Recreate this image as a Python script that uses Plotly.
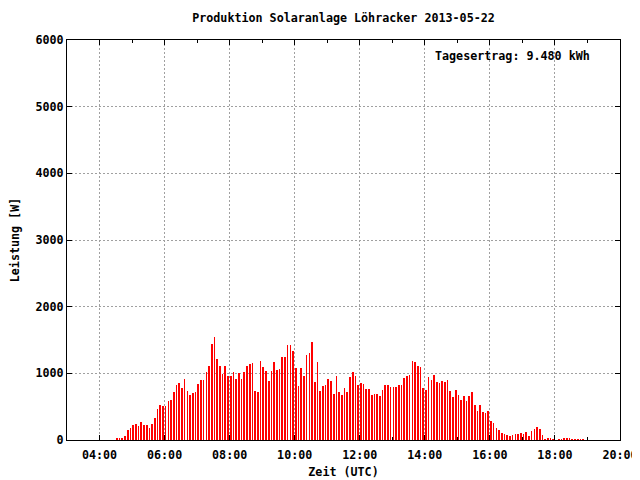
import plotly.graph_objects as go
import pandas as pd

start_time = "2013-05-22 04:32"
interval = "5min"
leistung_w = [
    20, 20, 20, 60, 150, 180, 225, 240, 210, 270, 225, 225, 180, 240, 330, 465, 525, 510, 510, 585, 600, 720, 825, 855,
    780, 915, 735, 675, 705, 720, 840, 900, 900, 1020, 1110, 1440, 1545, 1215, 1110, 990, 1110, 960, 960, 1020, 915, 1005, 915, 1020, 1110,
    1140, 1155, 735, 720, 1185, 1095, 1035, 885, 1035, 1170, 1050, 1065, 1245, 1245, 1425, 1425, 1335, 1080, 810, 1080, 960, 1275, 1305, 1470, 870,
    1170, 735, 810, 825, 915, 885, 690, 960, 720, 675, 780, 720, 945, 1020, 960, 825, 855, 840, 765, 765, 675, 690, 690, 660, 750,
    825, 825, 795, 795, 795, 825, 825, 930, 960, 975, 1185, 1170, 1110, 1095, 780, 750, 945, 900, 975, 870, 855, 885, 870, 900, 735,
    645, 750, 675, 600, 660, 585, 660, 720, 525, 435, 525, 420, 405, 435, 285, 255, 180, 150, 105, 90, 75, 60, 75, 90, 90, 105,
    90, 120, 60, 135, 165, 195, 165, 75, 15, 30, 30, 15, 0, 15, 15, 30, 30, 30, 15, 15, 15, 15, 15,
]
zeit = pd.date_range(start_time, periods=len(leistung_w), freq=interval)

title_text = "Produktion Solaranlage Löhracker 2013-05-22"
ertrag_text = "Tagesertrag: 9.480 kWh"
x_label = "Zeit (UTC)"
y_label = "Leistung [W]"

FONT = "DejaVu Sans Mono"
HOUR_MS = 3600 * 1000
PX_PER_HOUR = 553 / 17.0
bar_width_ms = HOUR_MS / PX_PER_HOUR * 0.65

# page body has an 8px default margin: the figure is sized so the plot area
# lands at x 67..620, y 40..440 of the 640x480 window
W, H = 632, 472
ML, MT = 59, 32
PW, PH = 553, 400

fig = go.Figure()
fig.add_trace(go.Bar(
    x=zeit, y=leistung_w, width=bar_width_ms,
    marker=dict(color="#ff0000", line=dict(width=0)),
    showlegend=False,
))

grid = dict(showgrid=True, gridcolor="#a0a0a0", gridwidth=1, griddash="2px,2px")
tfont = dict(family=FONT, size=11.7, color="black", weight="bold")

fig.update_layout(
    width=W, height=H,
    margin=dict(l=ML, r=W - ML - PW, t=MT, b=H - MT - PH, autoexpand=False),
    paper_bgcolor="white", plot_bgcolor="white",
    font=tfont,
    bargap=0,
    title=dict(text=title_text, x=0.5, xref="paper", xanchor="center",
               y=1 - 10 / H, yanchor="middle", automargin=False, font=tfont),
    xaxis=dict(
        type="date", automargin=False,
        range=["2013-05-22 03:00", "2013-05-22 20:00"],
        tick0="2013-05-22 00:00", dtick=2 * HOUR_MS, tickformat="%H:%M",
        ticks="inside", ticklen=5, tickcolor="black", tickfont=tfont, ticklabelstandoff=4,
        minor=dict(dtick=HOUR_MS, tick0="2013-05-22 00:00", ticks="inside", ticklen=3, tickcolor="black", showgrid=False),
        showline=True, linecolor="black", linewidth=1, mirror="allticks",
        layer="below traces", zeroline=False,
        title=dict(text=x_label, standoff=6, font=tfont),
        **grid,
    ),
    yaxis=dict(
        range=[0, 6000], dtick=1000, automargin=False,
        ticks="inside", ticklen=5, tickcolor="black", tickfont=tfont,
        showline=True, linecolor="black", linewidth=1, mirror="allticks",
        layer="below traces", zeroline=False,
        title=dict(text=y_label, standoff=13, font=tfont),
        **grid,
    ),
    annotations=[dict(
        text=ertrag_text, xref="paper", yref="paper",
        x=(433 - 67) / PW, y=(440 - 56) / PH, xanchor="left", yanchor="middle",
        showarrow=False, font=tfont,
    )],
)

fig.write_html("out.html")
